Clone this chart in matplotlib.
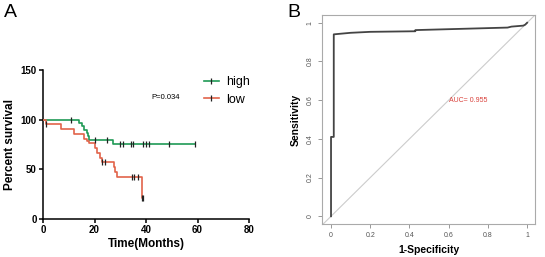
import numpy as np
import matplotlib.pyplot as plt
from matplotlib.lines import Line2D

plt.rcParams['font.family'] = ['Liberation Sans', 'DejaVu Sans']

# Panel A: Kaplan-Meier steps (time in months, percent survival)
high_time = [0, 14, 15, 16, 17, 17.5, 18, 27]
high_surv = [100, 96.7, 93.3, 90, 86.7, 83.3, 80, 75]
high_end = 59
high_cens = [11, 20, 25, 30, 31, 34, 35, 39, 40, 41, 49, 59]

low_time = [0, 1, 7, 12, 16, 17, 18, 20, 21, 22, 23, 27.5, 28, 28.7, 38.4]
low_surv = [100, 95.2, 90.5, 85.7, 81, 78.5, 76.2, 71.4, 66.7, 61.9, 57.1, 52, 47, 42, 21.4]
low_end = 39
low_cens = [1, 23, 24, 34.5, 35.2, 37, 38.5, 39]

p_text = "P=0.034"

# Panel B: ROC curve
fpr = [0, 0, 0.014, 0.014, 0.1, 0.2, 0.43, 0.43, 0.9, 0.92, 0.98, 0.99, 1]
tpr = [0, 0.41, 0.41, 0.94, 0.948, 0.953, 0.956, 0.962, 0.975, 0.98, 0.985, 0.99, 1]
auc_text = "AUC= 0.955"

green = '#1f9a55'
red = '#e2634a'

fig = plt.figure(figsize=(5.45, 2.57), dpi=100)

# ---- Panel A
axA = fig.add_axes([43/545, 38/257, 206/545, 149/257])


def km(ax, t, s, end, cens, color):
    tt = list(t) + [end]
    ss = list(s) + [s[-1]]
    ax.step(tt, ss, where='post', color=color, lw=1.2, zorder=3)
    idx = np.searchsorted(t, cens, side='right') - 1
    ax.plot(cens, np.array(s)[idx], ls='none', marker='|', ms=4.5, mew=0.9,
            color='#222222', zorder=4)


km(axA, high_time, high_surv, high_end, high_cens, green)
km(axA, low_time, low_surv, low_end, low_cens, red)

axA.set_xlim(0, 80)
axA.set_ylim(0, 150)
axA.set_xticks([0, 20, 40, 60, 80])
axA.set_yticks([0, 50, 100, 150])
for sp in ['top', 'right']:
    axA.spines[sp].set_visible(False)
for sp in ['left', 'bottom']:
    axA.spines[sp].set_linewidth(1.1)
axA.tick_params(length=3, width=1.1, labelsize=7, pad=1.5)
for lab in axA.get_xticklabels() + axA.get_yticklabels():
    lab.set_fontweight('bold')
axA.set_xlabel('Time(Months)', fontsize=8.5, fontweight='bold', labelpad=2)
axA.set_ylabel('Percent survival', fontsize=8.5, fontweight='bold', labelpad=3)
axA.text(42, 122, p_text, fontsize=5.5, va='center', ha='left')

handles = [Line2D([], [], color=green, lw=1.2, marker='|', ms=4.5, mew=0.9, mec='#222222'),
           Line2D([], [], color=red, lw=1.2, marker='|', ms=4.5, mew=0.9, mec='#222222')]
axA.legend(handles, ['high', 'low'], loc='upper left',
           bbox_to_anchor=(155/206, 149/149), frameon=False, fontsize=9,
           handlelength=1.15, handletextpad=0.6, labelspacing=0.45, borderpad=0)

# ---- Panel B
axB = fig.add_axes([322/545, 33/257, 213/545, 209/257])
axB.axline((0, 0), (1, 1), color='#cccccc', lw=0.8, zorder=1)
axB.plot(fpr, tpr, color='#444444', lw=1.3, zorder=3)
axB.set_xlim(-0.046, 1.04)
axB.set_ylim(-0.04, 1.04)
ticks = [0, 0.2, 0.4, 0.6, 0.8, 1]
tlabels = ['0', '0.2', '0.4', '0.6', '0.8', '1']
axB.set_xticks(ticks)
axB.set_xticklabels(tlabels)
axB.set_yticks(ticks)
axB.set_yticklabels(tlabels, rotation=90, va='center')
for sp in axB.spines.values():
    sp.set_color('#aaaaaa')
    sp.set_linewidth(0.8)
axB.tick_params(length=3, width=0.6, color='#888888', labelsize=5,
                labelcolor='#555555', pad=3)
axB.set_xlabel('1-Specificity', fontsize=7.5, fontweight='bold', labelpad=4)
axB.set_ylabel('Sensitivity', fontsize=7.5, fontweight='bold', labelpad=4)
axB.text(0.7, 0.6, auc_text, color='#d9403a', fontsize=5, ha='center', va='center')

fig.text(10/545, 1 - 12/257, 'A', fontsize=14, ha='center', va='center')
fig.text(294/545, 1 - 12/257, 'B', fontsize=14, ha='center', va='center')

fig.savefig('out.png', dpi=100)
